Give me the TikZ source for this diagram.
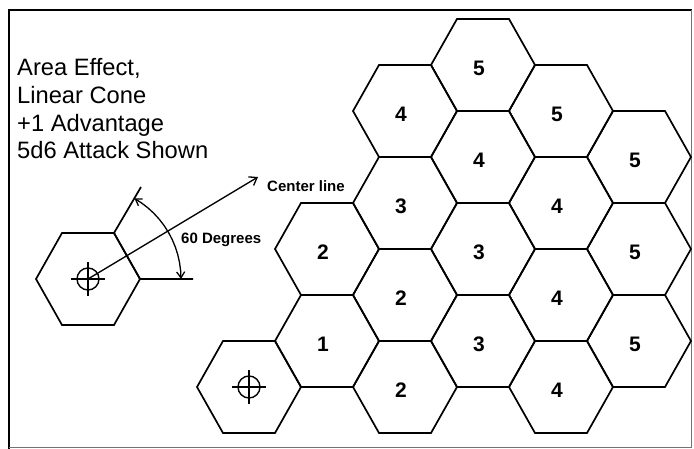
\documentclass[tikz,border=0pt]{standalone}
\usepackage{fontspec}
\setmainfont{Liberation Sans}
\usetikzlibrary{arrows.meta}
\newcommand\hexcell[2]{\draw[hexline,shift={(#1,#2)}] (52,0) -- (26,46) -- (-26,46) -- (-52,0) -- (-26,-46) -- (26,-46) -- cycle;}
\newcommand\crosshair[2]{\draw[crossline] (#1,#2) circle[radius=11pt];
  \draw[crossline] (#1-17,#2) -- (#1+17,#2) (#1,#2-17) -- (#1,#2+17);}
\begin{document}
\begin{tikzpicture}[x=1pt,y=-1pt,
  hexline/.style={line width=1.7pt, line join=miter},
  crossline/.style={line width=1.4pt},
  numlab/.style={font=\fontsize{21}{21}\selectfont\bfseries, inner sep=0pt},
  titletext/.style={font=\fontsize{23.7}{23.7}\selectfont, inner sep=0pt, anchor=base west},
  smalllab/.style={font=\fontsize{15}{15}\selectfont\bfseries, inner sep=0pt, anchor=west},
  barb/.style={line width=1.3pt},
]
\useasboundingbox (0,0) rectangle (694,449);
% frame
\draw[line width=2.8pt] (9,449) -- (9,10) -- (692,10);
\draw[line width=0.9pt, black!55] (691,10) -- (691,447) -- (9,447);

% title text
\node[titletext] (t1) at (17,76) {Area Effect,};
\node[titletext] (t2) at (17,104) {Linear Cone};
\node[titletext] (t3) at (17,131.5) {+1 Advantage};
\node[titletext] (t4) at (17,159) {5d6 Attack Shown};

% small explanatory hex
\hexcell{88}{279}
\crosshair{88}{279}
\coordinate (o) at (88,279);
\coordinate (va) at (141,187);
\coordinate (vb) at (114,233);
\coordinate (vc) at (140,279);
\coordinate (vd) at (193,279);
\draw[hexline] (va) -- (vb) -- (vc) -- (vd);
\draw[barb,{Straight Barb[length=6pt,width=8pt]}-{Straight Barb[length=6pt,width=8pt]}]
  plot[domain=60:0,samples=13] ({88+93*cos(\x)},{279-93*sin(\x)});
\coordinate (cl) at (258,177);
\draw[barb,-{Straight Barb[length=7pt,width=10pt]}] (o) -- (cl);
\node[smalllab] (clab) at (267,186) {Center line};
\node[smalllab] (dlab) at (181,240) {60 Degrees};

% hex grid
\hexcell{249}{387}
\crosshair{249}{387}
\foreach \cx/\cy/\lab [count=\i] in {
  327/341/1, 327/249/2,
  405/387/2, 405/295/2, 405/203/3, 405/111/4,
  483/341/3, 483/249/3, 483/157/4, 483/65/5,
  561/387/4, 561/295/4, 561/203/4, 561/111/5,
  639/341/5, 639/249/5, 639/157/5}{
  \hexcell{\cx}{\cy}
  \node[numlab] (n\i) at (\cx-4,\cy+3) {\lab};
}
\end{tikzpicture}
\end{document}
